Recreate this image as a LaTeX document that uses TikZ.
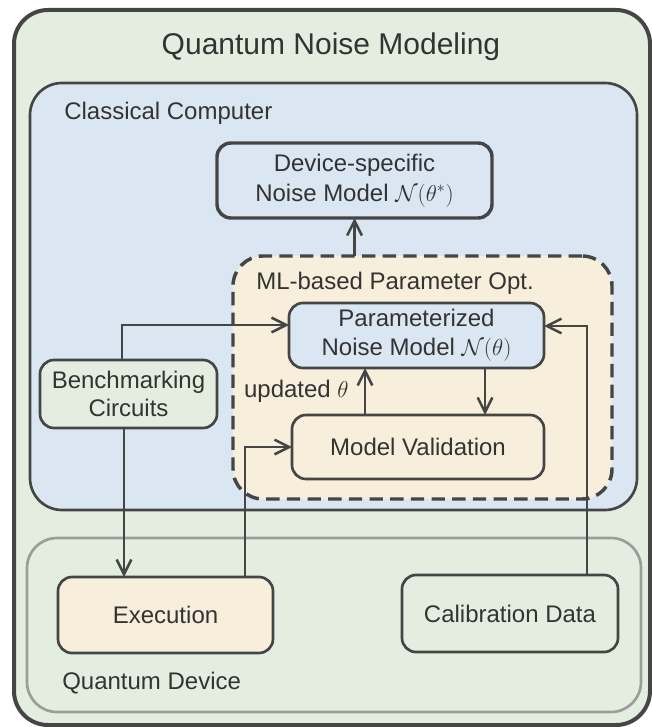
\documentclass[tikz,border=0pt]{standalone}
\usepackage{fontspec}
\setmainfont{Liberation Sans}
\usetikzlibrary{arrows.meta,calc}
\definecolor{linegray}{HTML}{454545}
\definecolor{textgray}{HTML}{333333}
\definecolor{framegray}{HTML}{9C9C9C}
\definecolor{greenbg}{HTML}{E3EEE0}
\definecolor{bluebg}{HTML}{DAE7F3}
\definecolor{creambg}{HTML}{F7EEDC}

\begin{document}
\begin{tikzpicture}[x=0.75pt,y=-0.75pt,
  group/.style={draw=linegray, line width=2pt, inner sep=0pt, outer sep=0pt},
  box/.style={draw=linegray, line width=2pt, rounded corners=10.5pt, inner sep=0pt,
    outer sep=0pt, align=center, text=textgray, font=\fontsize{18}{21.5}\selectfont},
  grouplabel/.style={anchor=west, inner sep=0pt, text=textgray, font=\fontsize{18}{21.5}\selectfont},
  flow/.style={draw=linegray, line width=1.9pt,
    -{Straight Barb[length=11pt,width=11pt,line width=1.9pt]}}]
\useasboundingbox (0,0) rectangle (652,727);
%CONTAINERS
\node[group, fill=greenbg, line width=3pt, rounded corners=25.5pt,
  minimum width=477pt, minimum height=536.25pt] (outer) at (332,367.5) {};
\node[group, fill=bluebg, rounded corners=24pt,
  minimum width=455.25pt, minimum height=320.25pt] (classical) at (333.5,296.5) {};
\node[group, draw=framegray, rounded corners=22.5pt,
  minimum width=460.5pt, minimum height=130.5pt] (quantum) at (334,625) {};
\node[group, fill=creambg, line width=2.6pt, dash pattern=on 10pt off 5.5pt, rounded corners=22.5pt,
  minimum width=284.25pt, minimum height=182.25pt] (optbox) at (422.5,377.5) {};
%LABELS
\node[text=textgray, font=\fontsize{22.5}{27}\selectfont] (title) at (331,47) {Quantum Noise Modeling};
\node[grouplabel] (cclabel) at (64,113) {Classical Computer};
\node[grouplabel] (optlabel) at (256,283) {ML-based Parameter Opt.};
\node[grouplabel] (qdlabel) at (62,683) {Quantum Device};
%BOXES
\node[box, fill=bluebg, line width=2.6pt, minimum width=206.25pt, minimum height=56.25pt,
  font=\fontsize{18}{22.5}\selectfont] (device) at (354.5,180.5)
  {Device-specific\\Noise Model $\mathcal{N}(\theta^{*})$};
\node[box, fill=bluebg, minimum width=191.25pt, minimum height=48.75pt] (param) at (416.5,335.5)
  {Parameterized\\Noise Model $\mathcal{N}(\theta)$};
\node[box, fill=greenbg, minimum width=132.75pt, minimum height=51pt] (bench) at (128.5,394)
  {Benchmarking\\Circuits};
\node[box, fill=creambg, minimum width=189pt, minimum height=48pt] (valid) at (418,447)
  {Model Validation};
\node[box, fill=creambg, minimum width=161.25pt, minimum height=57pt] (exec) at (165.5,615)
  {Execution};
\node[box, fill=greenbg, minimum width=162pt, minimum height=57.75pt] (calib) at (510,613.5)
  {Calibration Data};
%optimisation to device model
\draw[flow] (device.south |- optbox.north) -- (device.south);
%bench to param
\draw[flow] ($(bench.north)+(-6.5,0)$) |- ($(param.west)+(0,-10.5)$);
%bench to execution
\coordinate (bdown) at ($(bench.south)+(-4.5,0)$);
\draw[flow] (bdown) -- (bdown |- exec.north);
%execution to validation
\draw[flow] ($(exec.north)+(79.5,0)$) |- (valid.west);
%calibration to param
\draw[flow] ($(calib.north)+(77,0)$) |- ($(param.east)+(0,-9.5)$);
%param to validation
\coordinate (pdown) at ($(param.south)+(68.5,0)$);
\draw[flow] (pdown) -- (pdown |- valid.north);
%validation to param
\coordinate (vup) at ($(valid.north)+(-53,0)$);
\draw[flow] (vup) -- node[left=8pt, text=textgray, font=\fontsize{18}{21.5}\selectfont]
  {updated $\theta$} (vup |- param.south);
\end{tikzpicture}
\end{document}
